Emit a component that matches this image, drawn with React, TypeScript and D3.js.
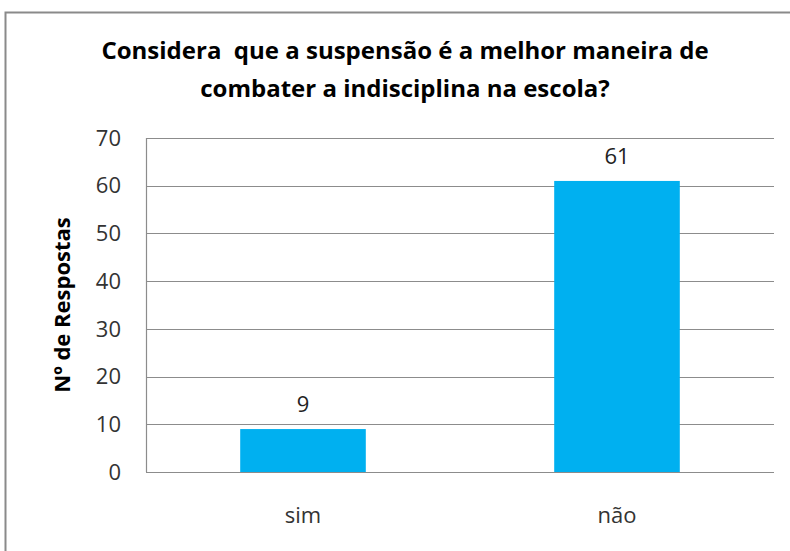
import React, { useEffect, useRef } from 'react';
import * as d3 from 'd3';

// chart data
const categories = ['sim', 'não'];
const values = [9, 61];
const yTicks = [0, 10, 20, 30, 40, 50, 60, 70];
const titleLines = ['Considera  que a suspensão é a melhor maneira de', 'combater a indisciplina na escola?'];
const yTitle = 'Nº de Respostas';

const W = 790;
const H = 551;
const FONT = "'Open Sans', 'Noto Sans', sans-serif";

function App() {
    const svgRef = useRef<SVGSVGElement>(null);

    useEffect(() => {
        const svg = d3.select(svgRef.current);
        svg.selectAll('*').remove();

        const plot = { left: 146, right: 774, top: 138, bottom: 472 };

        // frame of the chart (continues past the right / bottom edge)
        svg.append('rect')
            .attr('x', 5.5).attr('y', 12.5)
            .attr('width', W + 20).attr('height', H + 20)
            .attr('fill', 'white')
            .attr('stroke', '#8a8a8a')
            .attr('stroke-width', 2);

        // title
        svg.append('g').selectAll('text')
            .data(titleLines)
            .enter()
            .append('text')
            .attr('x', 405)
            .attr('y', (d, i) => 59 + i * 38)
            .attr('text-anchor', 'middle')
            .style('white-space', 'pre')
            .style('font-family', FONT)
            .style('font-weight', 'bold')
            .style('font-size', '24px')
            .style('fill', '#000')
            .text(d => d);

        const x = d3.scaleBand()
            .domain(categories)
            .range([plot.left, plot.right])
            .paddingInner(0.6)
            .paddingOuter(0.3);

        const y = d3.scaleLinear()
            .domain([0, 70])
            .range([plot.bottom, plot.top]);

        // gridlines
        svg.append('g')
            .selectAll('line')
            .data(yTicks)
            .enter()
            .append('line')
            .attr('x1', plot.left).attr('x2', plot.right)
            .attr('y1', d => Math.round(y(d)) + 0.5)
            .attr('y2', d => Math.round(y(d)) + 0.5)
            .attr('stroke', '#8c8c8c')
            .attr('stroke-width', 1.2);

        // y axis line
        svg.append('line')
            .attr('x1', plot.left + 0.5).attr('x2', plot.left + 0.5)
            .attr('y1', plot.top).attr('y2', plot.bottom)
            .attr('stroke', '#8c8c8c')
            .attr('stroke-width', 1.2);

        // y tick labels
        svg.append('g')
            .selectAll('text')
            .data(yTicks)
            .enter()
            .append('text')
            .attr('x', 121)
            .attr('y', d => y(d))
            .attr('dy', '0.35em')
            .attr('text-anchor', 'end')
            .style('font-family', FONT)
            .style('font-size', '22px')
            .style('fill', '#333')
            .text(d => d);

        // y axis title
        svg.append('text')
            .attr('transform', `translate(62, 305) rotate(-90)`)
            .attr('dy', '0.35em')
            .attr('text-anchor', 'middle')
            .style('font-family', FONT)
            .style('font-weight', 'bold')
            .style('font-size', '22px')
            .style('fill', '#000')
            .text(yTitle);

        // bars
        const data = categories.map((c, i) => ({ c, v: values[i] }));
        svg.append('g')
            .selectAll('rect')
            .data(data)
            .enter()
            .append('rect')
            .attr('x', d => x(d.c))
            .attr('y', d => y(d.v))
            .attr('width', x.bandwidth())
            .attr('height', d => y(0) - y(d.v))
            .attr('fill', '#00b0f0');

        // value labels
        svg.append('g')
            .selectAll('text')
            .data(data)
            .enter()
            .append('text')
            .attr('x', d => x(d.c) + x.bandwidth() / 2)
            .attr('y', d => y(d.v) - 25)
            .attr('dy', '0.35em')
            .attr('text-anchor', 'middle')
            .style('font-family', FONT)
            .style('font-size', '22px')
            .style('fill', '#222')
            .text(d => d.v);

        // category labels
        svg.append('g')
            .selectAll('text')
            .data(categories)
            .enter()
            .append('text')
            .attr('x', d => x(d) + x.bandwidth() / 2)
            .attr('y', 515)
            .attr('dy', '0.35em')
            .attr('text-anchor', 'middle')
            .style('font-family', FONT)
            .style('font-size', '22px')
            .style('fill', '#333')
            .text(d => d);
    }, []);

    return (
        <svg ref={svgRef} width={W} height={H}
            style={{ position: 'absolute', left: 0, top: 0, background: 'white' }} />
    );
}

export default App;
